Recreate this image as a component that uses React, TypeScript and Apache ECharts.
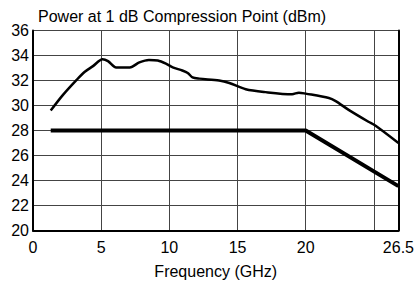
import React, { useEffect, useRef } from "react";
import * as echarts from "echarts";

const titleText = "Power at 1 dB Compression Point (dBm)";
const xAxisName = "Frequency (GHz)";

// Typical curve
const typFreq = [1.3, 2.2, 3.2, 3.8, 4.4, 5.1, 5.5, 6.1, 7.1, 7.8, 8.5, 9.15, 9.75, 10.25, 10.95, 11.35, 11.7, 12.2, 13.65, 14.4, 15.6, 17.05, 19.0, 19.5, 20.0, 21.7, 22.2, 23.15, 24.6, 25.1, 26.8];
const typPower = [29.6, 30.85, 32.05, 32.7, 33.15, 33.7, 33.55, 33.05, 33.05, 33.45, 33.65, 33.6, 33.35, 33.05, 32.8, 32.6, 32.25, 32.15, 32.0, 31.8, 31.3, 31.07, 30.9, 31.03, 30.95, 30.6, 30.35, 29.65, 28.7, 28.4, 27.0];

// Specification line
const specFreq = [1.3, 20.0, 26.8];
const specPower = [28.0, 28.0, 23.55];

const xMin = 0;
const xMax = 26.8;
const xInterval = 5;
const yMin = 20;
const yMax = 36;
const yInterval = 2;

export default function App() {
  const ref = useRef<HTMLDivElement>(null);
  useEffect(() => {
    if (!ref.current) return;
    const chart = echarts.init(ref.current, null, { renderer: "svg" });
    const font = "'Liberation Sans', Arial, Helvetica, sans-serif";
    chart.setOption({
      animation: false,
      backgroundColor: "#ffffff",
      textStyle: { fontFamily: font },
      title: {
        text: titleText,
        left: 33,
        top: 3,
        textStyle: { fontSize: 16, fontWeight: "normal", color: "#000", fontFamily: font },
      },
      grid: { left: 33, right: 17, top: 30.5, bottom: 56.5, containLabel: false },
      xAxis: {
        type: "value",
        min: xMin,
        max: xMax,
        interval: xInterval,
        name: xAxisName,
        nameLocation: "middle",
        nameGap: 33,
        nameTextStyle: { fontSize: 16, color: "#000", fontFamily: font },
        axisLine: { show: true, lineStyle: { color: "#000", width: 2 } },
        axisTick: { show: false },
        axisLabel: {
          fontSize: 16,
          color: "#000",
          margin: 9,
          fontFamily: font,
          showMaxLabel: true,
          formatter: (v: number) => {
            if (Math.abs(v - xMax) < 1e-6) return "26.5";
            if (v === 25) return "";
            return String(v);
          },
        },
        splitLine: { show: true, lineStyle: { color: "#444", width: 1 } },
      },
      yAxis: [
        {
          type: "value",
          min: yMin,
          max: yMax,
          interval: yInterval,
          axisLine: { show: true, lineStyle: { color: "#000", width: 2 } },
          axisTick: { show: false },
          axisLabel: { fontSize: 16, color: "#000", margin: 4, fontFamily: font },
          splitLine: { show: true, lineStyle: { color: "#444", width: 1 } },
        },
        {
          type: "value",
          min: yMin,
          max: yMax,
          interval: yInterval,
          position: "right",
          axisLine: { show: true, lineStyle: { color: "#000", width: 2 } },
          axisTick: { show: false },
          axisLabel: { show: false },
          splitLine: { show: false },
        },
      ],
      series: [
        {
          type: "line",
          data: typFreq.map((f, i) => [f, typPower[i]]),
          showSymbol: false,
          smooth: 0.3,
          lineStyle: { color: "#000", width: 2.5 },
          z: 3,
        },
        {
          type: "line",
          data: specFreq.map((f, i) => [f, specPower[i]]),
          showSymbol: false,
          lineStyle: { color: "#000", width: 4 },
          z: 3,
        },
      ],
    });
    return () => chart.dispose();
  }, []);
  return <div ref={ref} style={{ width: 417, height: 287, position: "absolute", left: 0, top: 0 }} />;
}
